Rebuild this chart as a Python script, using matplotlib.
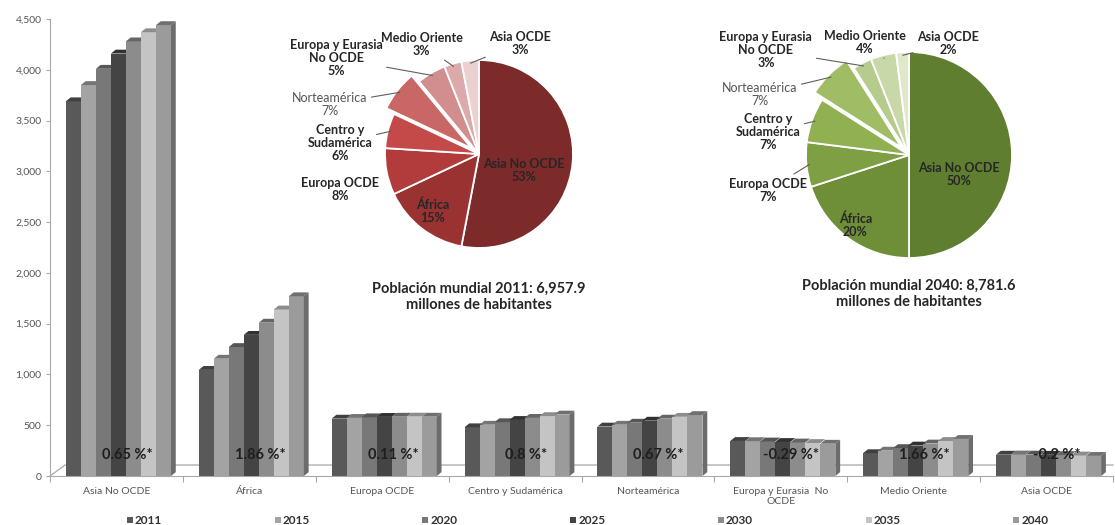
import numpy as np
import matplotlib
matplotlib.use("Agg")
import matplotlib.pyplot as plt
from matplotlib.patches import Polygon, Rectangle
from matplotlib.colors import to_rgb

plt.rcParams['font.family'] = ['Lato', 'DejaVu Sans']

# población por región (millones de habitantes)
regions = ["Asia No OCDE", "África", "Europa OCDE", "Centro y Sudamérica",
           "Norteamérica", "Europa y Eurasia  No\nOCDE", "Medio Oriente", "Asia OCDE"]
years = ["2011", "2015", "2020", "2025", "2030", "2035", "2040"]

pop_2011 = [3690, 1045, 565, 480, 487, 345, 225, 210]
pop_2015 = [3850, 1155, 572, 505, 505, 343, 250, 212]
pop_2020 = [4010, 1270, 578, 530, 525, 340, 275, 211]
pop_2025 = [4160, 1390, 582, 552, 545, 335, 300, 209]
pop_2030 = [4280, 1510, 584, 572, 565, 330, 320, 206]
pop_2035 = [4370, 1640, 585, 590, 583, 325, 345, 202]
pop_2040 = [4440, 1770, 584, 605, 600, 318, 365, 198]
series = [pop_2011, pop_2015, pop_2020, pop_2025, pop_2030, pop_2035, pop_2040]

growth = ["0.65", "1.86", "0.11", "0.8", "0.67", "-0.29", "1.66", "-0.2"]

# participación por región en los pasteles
pie_names = ["Asia No OCDE", "África", "Europa OCDE", "Centro y\nSudamérica",
             "Norteamérica", "Europa y Eurasia\nNo OCDE", "Medio Oriente", "Asia OCDE"]
shares_2011 = [53, 15, 8, 6, 7, 5, 3, 3]
shares_2040 = [50, 20, 7, 7, 7, 3, 4, 2]
world_2011 = "6,957.9"
world_2040 = "8,781.6"

year_colors = ['#595959', '#a3a3a3', '#787878', '#444444', '#8c8c8c', '#c4c4c4', '#9b9b9b']
red_colors = ['#7c2a2a', '#9a3232', '#b23c3c', '#c44a4a', '#c96666', '#d28e8e', '#dcaaaa', '#ebd0d0']
green_colors = ['#5f7e2f', '#6f8e38', '#7f9f45', '#90b052', '#a0bd66', '#b6cc8d', '#c8d8a8', '#dfe8cb']

W, H = 1115, 525
fig = plt.figure(figsize=(W / 100, H / 100), dpi=100)
fig.patch.set_facecolor('white')


def shade(c, f):
    r, g, b = to_rgb(c)
    return (r * f, g * f, b * f)


# ---- bar chart ----
ax = fig.add_axes([50 / W, 1 - 476 / H, 1063 / W, 457 / H])
ax.set_xlim(-0.5, 7.5)
ax.set_ylim(0, 4500)

x = np.arange(len(regions))
bw = 0.113
dx, dy = 0.036, 38  # depth of the 3D faces

# floor of the 3D box
ax.plot([-0.5, -0.5 + 0.113, 7.5], [0, 108, 108], color='#b0b0b0', lw=1, clip_on=False, zorder=1)

for i, (vals, col) in enumerate(zip(series, year_colors)):
    xs = x + (i - 3) * bw + 0.015
    ax.bar(xs, vals, width=bw, color=col, edgecolor='none', zorder=2 + i)
    for xc, v in zip(xs, vals):
        x0, x1 = xc - bw / 2, xc + bw / 2
        ax.add_patch(Polygon([(x0, v), (x1, v), (x1 + dx, v + dy), (x0 + dx, v + dy)],
                             closed=True, facecolor=shade(col, 0.72), edgecolor='none', zorder=2 + i))
        if i == len(series) - 1:
            ax.add_patch(Polygon([(x1, 0), (x1 + dx, dy), (x1 + dx, v + dy), (x1, v)],
                                 closed=True, facecolor=shade(col, 0.7), edgecolor='none', zorder=2 + i))

for xi, g in zip(x, growth):
    ax.text(xi + 0.08, 205, f"{g} %*", ha='center', va='center', fontsize=10.5,
            fontweight='bold', color='#1e1e1e', zorder=20)

for s in ['top', 'right']:
    ax.spines[s].set_visible(False)
ax.spines['left'].set_color('#a8a8a8')
ax.spines['bottom'].set_color('#a8a8a8')
ax.set_yticks(np.arange(0, 4501, 500))
ax.set_yticklabels([f"{v:,}" for v in range(0, 4501, 500)], fontsize=7.5, color='#555555')
ax.tick_params(axis='y', length=3, color='#a8a8a8', pad=3)
ax.set_xticks(np.arange(-0.5, 8, 1))
ax.set_xticklabels([])
ax.tick_params(axis='x', which='major', length=4, color='#a8a8a8')
ax.set_xticks(x, minor=True)
ax.set_xticklabels(regions, minor=True, fontsize=7.5, color='#555555', linespacing=1.1)
ax.tick_params(axis='x', which='minor', length=0, pad=8)

# legend row
for i, (yr, col) in enumerate(zip(years, year_colors)):
    lx = 127 + 147.7 * i
    fig.patches.append(Rectangle((lx / W, 1 - 523 / H), 6 / W, 6 / H,
                                 transform=fig.transFigure, facecolor=col, edgecolor='none'))
    fig.text((lx + 8) / W, 1 - 520 / H, yr, ha='left', va='center', fontsize=8.5,
             fontweight='bold', color='#333333')


# ---- pie charts ----
def draw_pie(cx, cy, r, shares, colors, label_pos, leaders, caption, cap_y):
    pa = fig.add_axes([(cx - 1.9 * r) / W, 1 - (cy + 1.35 * r) / H, 3.8 * r / W, 2.7 * r / H])
    explode = [0.1 if n == "Norteamérica" else 0 for n in pie_names]
    wedges, _ = pa.pie(shares, colors=colors, startangle=90, counterclock=False,
                       explode=explode, radius=1,
                       wedgeprops=dict(edgecolor='white', linewidth=1.3))
    pa.set_xlim(-1.9, 1.9)
    pa.set_ylim(-1.35, 1.35)
    pa.set_aspect('equal')
    pa.axis('off')
    for k, (w, name, sh) in enumerate(zip(wedges, pie_names, shares)):
        lab = f"{name}\n{sh}%"
        plain = name == "Norteamérica"
        kw = dict(ha='center', va='center', fontsize=9, linespacing=1.1,
                  fontweight='normal' if plain else 'bold',
                  color='#555555' if plain else '#262626')
        tx, ty = label_pos[k]
        if leaders[k]:
            mid = np.deg2rad((w.theta1 + w.theta2) / 2)
            ex = w.center[0] + 0.97 * np.cos(mid)
            ey = w.center[1] + 0.97 * np.sin(mid)
            pa.annotate(lab, xy=(ex, ey), xytext=(tx, ty), annotation_clip=False,
                        arrowprops=dict(arrowstyle='-', color='#606060', lw=0.8,
                                        shrinkA=1, shrinkB=0), **kw)
        else:
            pa.text(tx, ty, lab, **kw)
    fig.text(cx / W, 1 - cap_y / H, caption, ha='center', va='center', fontsize=10.5,
             fontweight='bold', color='#262626', linespacing=1.2)


draw_pie(479, 154, 94, shares_2011, red_colors,
         [(0.48, -0.18), (-0.49, -0.61), (-1.48, -0.38), (-1.48, 0.12),
          (-1.59, 0.53), (-1.52, 1.02), (-0.61, 1.17), (0.44, 1.18)],
         [False, False, False, True, True, True, True, True],
         f"Población mundial 2011: {world_2011}\nmillones de habitantes", 297)

draw_pie(909, 155, 103, shares_2040, green_colors,
         [(0.48, -0.19), (-0.52, -0.68), (-1.37, -0.34), (-1.37, 0.22),
          (-1.45, 0.59), (-1.39, 1.02), (-0.43, 1.09), (0.38, 1.08)],
         [False, False, True, True, True, True, True, True],
         f"Población mundial 2040: {world_2040}\nmillones de habitantes", 294)

fig.savefig("out.png", dpi=100)
